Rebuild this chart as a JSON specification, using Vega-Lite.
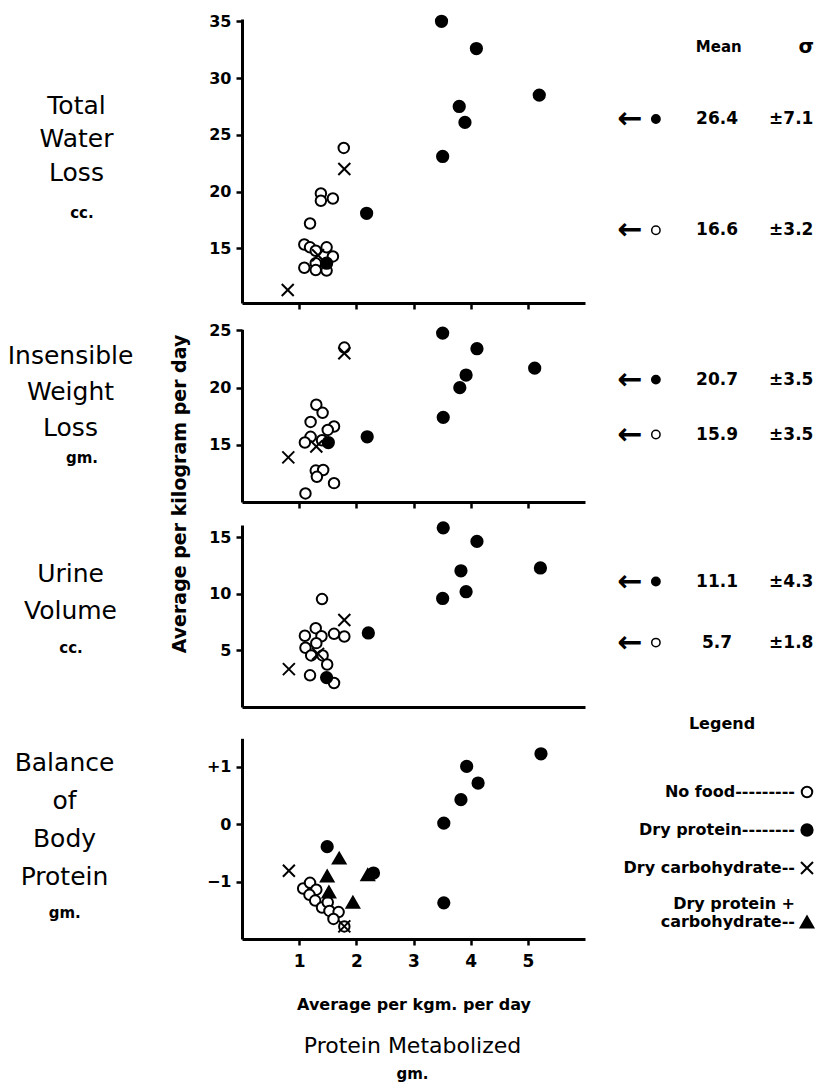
{
  "$schema": "https://vega.github.io/schema/vega-lite/v6.json",
  "padding": 0,
  "background": "white",
  "autosize": {"type": "pad"},
  "datasets": {
    "obs": [
      {"measure": "Total Water Loss", "diet": "No food", "protein": 1.78, "value": 23.85},
      {"measure": "Total Water Loss", "diet": "No food", "protein": 1.38, "value": 19.85},
      {"measure": "Total Water Loss", "diet": "No food", "protein": 1.38, "value": 19.2},
      {"measure": "Total Water Loss", "diet": "No food", "protein": 1.59, "value": 19.4},
      {"measure": "Total Water Loss", "diet": "No food", "protein": 1.19, "value": 17.2},
      {"measure": "Total Water Loss", "diet": "No food", "protein": 1.09, "value": 15.35},
      {"measure": "Total Water Loss", "diet": "No food", "protein": 1.19, "value": 15.1},
      {"measure": "Total Water Loss", "diet": "No food", "protein": 1.29, "value": 14.8},
      {"measure": "Total Water Loss", "diet": "No food", "protein": 1.48, "value": 15.1},
      {"measure": "Total Water Loss", "diet": "No food", "protein": 1.59, "value": 14.3},
      {"measure": "Total Water Loss", "diet": "No food", "protein": 1.29, "value": 13.7},
      {"measure": "Total Water Loss", "diet": "No food", "protein": 1.09, "value": 13.3},
      {"measure": "Total Water Loss", "diet": "No food", "protein": 1.29, "value": 13.1},
      {"measure": "Total Water Loss", "diet": "No food", "protein": 1.48, "value": 13.05},
      {"measure": "Total Water Loss", "diet": "Dry protein", "protein": 3.49, "value": 35.0},
      {"measure": "Total Water Loss", "diet": "Dry protein", "protein": 4.10, "value": 32.6},
      {"measure": "Total Water Loss", "diet": "Dry protein", "protein": 5.20, "value": 28.5},
      {"measure": "Total Water Loss", "diet": "Dry protein", "protein": 3.80, "value": 27.5},
      {"measure": "Total Water Loss", "diet": "Dry protein", "protein": 3.90, "value": 26.1},
      {"measure": "Total Water Loss", "diet": "Dry protein", "protein": 3.51, "value": 23.1},
      {"measure": "Total Water Loss", "diet": "Dry protein", "protein": 2.18, "value": 18.1},
      {"measure": "Total Water Loss", "diet": "Dry protein", "protein": 1.48, "value": 13.7},
      {"measure": "Total Water Loss", "diet": "Dry carbohydrate", "protein": 1.79, "value": 22.0},
      {"measure": "Total Water Loss", "diet": "Dry carbohydrate", "protein": 0.80, "value": 11.35},
      {"measure": "Total Water Loss", "diet": "Dry carbohydrate", "protein": 1.33, "value": 14.4},
      {"measure": "Insensible Weight Loss", "diet": "No food", "protein": 1.79, "value": 23.5},
      {"measure": "Insensible Weight Loss", "diet": "No food", "protein": 1.30, "value": 18.5},
      {"measure": "Insensible Weight Loss", "diet": "No food", "protein": 1.41, "value": 17.8},
      {"measure": "Insensible Weight Loss", "diet": "No food", "protein": 1.20, "value": 17.0},
      {"measure": "Insensible Weight Loss", "diet": "No food", "protein": 1.61, "value": 16.6},
      {"measure": "Insensible Weight Loss", "diet": "No food", "protein": 1.50, "value": 16.3},
      {"measure": "Insensible Weight Loss", "diet": "No food", "protein": 1.20, "value": 15.7},
      {"measure": "Insensible Weight Loss", "diet": "No food", "protein": 1.10, "value": 15.2},
      {"measure": "Insensible Weight Loss", "diet": "No food", "protein": 1.40, "value": 15.4},
      {"measure": "Insensible Weight Loss", "diet": "No food", "protein": 1.29, "value": 12.75},
      {"measure": "Insensible Weight Loss", "diet": "No food", "protein": 1.42, "value": 12.8},
      {"measure": "Insensible Weight Loss", "diet": "No food", "protein": 1.31, "value": 12.2},
      {"measure": "Insensible Weight Loss", "diet": "No food", "protein": 1.61, "value": 11.65},
      {"measure": "Insensible Weight Loss", "diet": "No food", "protein": 1.11, "value": 10.75},
      {"measure": "Insensible Weight Loss", "diet": "Dry protein", "protein": 3.51, "value": 24.77},
      {"measure": "Insensible Weight Loss", "diet": "Dry protein", "protein": 4.11, "value": 23.4},
      {"measure": "Insensible Weight Loss", "diet": "Dry protein", "protein": 5.12, "value": 21.7},
      {"measure": "Insensible Weight Loss", "diet": "Dry protein", "protein": 3.92, "value": 21.1},
      {"measure": "Insensible Weight Loss", "diet": "Dry protein", "protein": 3.81, "value": 20.0},
      {"measure": "Insensible Weight Loss", "diet": "Dry protein", "protein": 3.52, "value": 17.4},
      {"measure": "Insensible Weight Loss", "diet": "Dry protein", "protein": 2.19, "value": 15.7},
      {"measure": "Insensible Weight Loss", "diet": "Dry protein", "protein": 1.51, "value": 15.2},
      {"measure": "Insensible Weight Loss", "diet": "Dry carbohydrate", "protein": 1.79, "value": 23.0},
      {"measure": "Insensible Weight Loss", "diet": "Dry carbohydrate", "protein": 1.30, "value": 14.85},
      {"measure": "Insensible Weight Loss", "diet": "Dry carbohydrate", "protein": 0.81, "value": 13.9},
      {"measure": "Urine Volume", "diet": "No food", "protein": 1.40, "value": 9.55},
      {"measure": "Urine Volume", "diet": "No food", "protein": 1.29, "value": 6.97},
      {"measure": "Urine Volume", "diet": "No food", "protein": 1.10, "value": 6.3},
      {"measure": "Urine Volume", "diet": "No food", "protein": 1.39, "value": 6.26},
      {"measure": "Urine Volume", "diet": "No food", "protein": 1.61, "value": 6.47},
      {"measure": "Urine Volume", "diet": "No food", "protein": 1.79, "value": 6.24},
      {"measure": "Urine Volume", "diet": "No food", "protein": 1.30, "value": 5.65},
      {"measure": "Urine Volume", "diet": "No food", "protein": 1.11, "value": 5.24},
      {"measure": "Urine Volume", "diet": "No food", "protein": 1.21, "value": 4.56},
      {"measure": "Urine Volume", "diet": "No food", "protein": 1.41, "value": 4.56},
      {"measure": "Urine Volume", "diet": "No food", "protein": 1.49, "value": 3.76},
      {"measure": "Urine Volume", "diet": "No food", "protein": 1.19, "value": 2.8},
      {"measure": "Urine Volume", "diet": "No food", "protein": 1.61, "value": 2.12},
      {"measure": "Urine Volume", "diet": "Dry protein", "protein": 3.52, "value": 15.85},
      {"measure": "Urine Volume", "diet": "Dry protein", "protein": 4.11, "value": 14.65},
      {"measure": "Urine Volume", "diet": "Dry protein", "protein": 5.22, "value": 12.3},
      {"measure": "Urine Volume", "diet": "Dry protein", "protein": 3.83, "value": 12.05},
      {"measure": "Urine Volume", "diet": "Dry protein", "protein": 3.92, "value": 10.2},
      {"measure": "Urine Volume", "diet": "Dry protein", "protein": 3.51, "value": 9.6},
      {"measure": "Urine Volume", "diet": "Dry protein", "protein": 2.21, "value": 6.55},
      {"measure": "Urine Volume", "diet": "Dry protein", "protein": 1.48, "value": 2.6},
      {"measure": "Urine Volume", "diet": "Dry carbohydrate", "protein": 1.79, "value": 7.7},
      {"measure": "Urine Volume", "diet": "Dry carbohydrate", "protein": 0.82, "value": 3.35},
      {"measure": "Urine Volume", "diet": "Dry carbohydrate", "protein": 1.33, "value": 4.7},
      {"measure": "Balance of Body Protein", "diet": "No food", "protein": 1.07, "value": -1.12},
      {"measure": "Balance of Body Protein", "diet": "No food", "protein": 1.19, "value": -1.02},
      {"measure": "Balance of Body Protein", "diet": "No food", "protein": 1.30, "value": -1.14},
      {"measure": "Balance of Body Protein", "diet": "No food", "protein": 1.18, "value": -1.23},
      {"measure": "Balance of Body Protein", "diet": "No food", "protein": 1.28, "value": -1.33},
      {"measure": "Balance of Body Protein", "diet": "No food", "protein": 1.40, "value": -1.45},
      {"measure": "Balance of Body Protein", "diet": "No food", "protein": 1.50, "value": -1.36},
      {"measure": "Balance of Body Protein", "diet": "No food", "protein": 1.53, "value": -1.51},
      {"measure": "Balance of Body Protein", "diet": "No food", "protein": 1.69, "value": -1.53},
      {"measure": "Balance of Body Protein", "diet": "No food", "protein": 1.60, "value": -1.65},
      {"measure": "Balance of Body Protein", "diet": "No food", "protein": 1.79, "value": -1.78},
      {"measure": "Balance of Body Protein", "diet": "Dry protein", "protein": 5.23, "value": 1.23},
      {"measure": "Balance of Body Protein", "diet": "Dry protein", "protein": 3.93, "value": 1.01},
      {"measure": "Balance of Body Protein", "diet": "Dry protein", "protein": 4.13, "value": 0.72},
      {"measure": "Balance of Body Protein", "diet": "Dry protein", "protein": 3.83, "value": 0.43},
      {"measure": "Balance of Body Protein", "diet": "Dry protein", "protein": 3.53, "value": 0.02},
      {"measure": "Balance of Body Protein", "diet": "Dry protein", "protein": 3.53, "value": -1.37},
      {"measure": "Balance of Body Protein", "diet": "Dry protein", "protein": 1.49, "value": -0.39},
      {"measure": "Balance of Body Protein", "diet": "Dry protein", "protein": 2.30, "value": -0.85},
      {"measure": "Balance of Body Protein", "diet": "Dry carbohydrate", "protein": 0.82, "value": -0.81},
      {"measure": "Balance of Body Protein", "diet": "Dry carbohydrate", "protein": 1.79, "value": -1.78},
      {"measure": "Balance of Body Protein", "diet": "Dry protein + carbohydrate", "protein": 1.70, "value": -0.59},
      {"measure": "Balance of Body Protein", "diet": "Dry protein + carbohydrate", "protein": 1.49, "value": -0.90},
      {"measure": "Balance of Body Protein", "diet": "Dry protein + carbohydrate", "protein": 2.20, "value": -0.88},
      {"measure": "Balance of Body Protein", "diet": "Dry protein + carbohydrate", "protein": 1.52, "value": -1.18},
      {"measure": "Balance of Body Protein", "diet": "Dry protein + carbohydrate", "protein": 1.94, "value": -1.36}
    ],
    "means": [
      {"measure": "Total Water Loss", "diet": "Dry protein", "mean": 26.4, "sd": "±7.1"},
      {"measure": "Total Water Loss", "diet": "No food", "mean": 16.6, "sd": "±3.2"},
      {"measure": "Insensible Weight Loss", "diet": "Dry protein", "mean": 20.7, "sd": "±3.5"},
      {"measure": "Insensible Weight Loss", "diet": "No food", "mean": 15.9, "sd": "±3.5"},
      {"measure": "Urine Volume", "diet": "Dry protein", "mean": 11.1, "sd": "±4.3"},
      {"measure": "Urine Volume", "diet": "No food", "mean": 5.7, "sd": "±1.8"}
    ]
  },
  "title": {
    "text": "Protein Metabolized",
    "subtitle": "gm.",
    "orient": "bottom",
    "anchor": "middle",
    "font": "DejaVu Sans",
    "fontSize": 22,
    "fontWeight": "normal",
    "color": "black",
    "subtitleFont": "DejaVu Sans",
    "subtitleFontSize": 15,
    "subtitleFontWeight": "bold",
    "subtitleColor": "black",
    "offset": 24,
    "subtitlePadding": 9
  },
  "spacing": 0,
  "bounds": "flush",
  "resolve": {
    "scale": {"x": "independent", "y": "independent", "shape": "shared", "fill": "shared", "size": "shared"},
    "legend": {"shape": "independent", "fill": "independent", "size": "independent"}
  },
  "vconcat": [
    {
      "width": 825,
      "height": 303,
      "layer": [
        {
          "data": {"name": "obs"},
          "transform": [{"filter": "datum.measure == 'Total Water Loss'"}],
          "mark": {"type": "point", "filled": true, "stroke": "black", "strokeWidth": 2, "opacity": 1},
          "encoding": {
            "x": {"field": "protein", "type": "quantitative", "scale": {"domain": [0, 6], "range": [242, 585], "nice": false, "zero": false}, "axis": {"values": [1, 2, 3, 4, 5], "labels": false, "title": null}},
            "y": {"field": "value", "type": "quantitative", "scale": {"domain": [10.2, 35.2], "range": [303, 19], "nice": false, "zero": false},
                  "axis": {"orient": "left", "offset": -242, "values": [15, 20, 25, 30, 35], "format": "d", "title": ["Total", "Water", "Loss"], "titleAngle": 0, "titleAlign": "center", "titleBaseline": "middle", "titleX": -166, "titleY": 105, "titleFontSize": 25, "titleFontWeight": "normal", "titleLineHeight": 33.5}},
            "shape": {"field": "diet", "type": "nominal", "scale": {"domain": ["No food", "Dry protein", "Dry carbohydrate", "Dry protein + carbohydrate"], "range": ["circle", "circle", "M-1,-1L1,1M-1,1L1,-1", "triangle-up"]}, "legend": null},
            "fill": {"field": "diet", "type": "nominal", "scale": {"domain": ["No food", "Dry protein", "Dry carbohydrate", "Dry protein + carbohydrate"], "range": ["white", "black", "black", "black"]}, "legend": null},
            "size": {"field": "diet", "type": "nominal", "scale": {"domain": ["No food", "Dry protein", "Dry carbohydrate", "Dry protein + carbohydrate"], "range": [110, 160, 140, 300]}, "legend": null}
          }
        },
        {
          "data": {"name": "means"},
          "transform": [{"filter": "datum.measure == 'Total Water Loss'"}],
          "mark": {"type": "text", "text": "←", "fontSize": 30, "fontWeight": "bold", "align": "center", "baseline": "middle"},
          "encoding": {"x": {"datum": 6.79}, "y": {"field": "mean", "type": "quantitative"}}
        },
        {
          "data": {"name": "means"},
          "transform": [{"filter": "datum.measure == 'Total Water Loss'"}],
          "mark": {"type": "point", "filled": true, "stroke": "black", "strokeWidth": 1.5, "opacity": 1, "size": 70},
          "encoding": {"x": {"datum": 7.24}, "y": {"field": "mean", "type": "quantitative"},
            "shape": {"field": "diet", "type": "nominal", "legend": null},
            "fill": {"field": "diet", "type": "nominal", "legend": null}}
        },
        {
          "data": {"name": "means"},
          "transform": [{"filter": "datum.measure == 'Total Water Loss'"}],
          "mark": {"type": "text", "fontSize": 17, "fontWeight": "bold", "align": "center", "baseline": "middle"},
          "encoding": {"x": {"datum": 8.31}, "y": {"field": "mean", "type": "quantitative"}, "text": {"field": "mean", "type": "quantitative", "format": ".1f"}}
        },
        {
          "data": {"name": "means"},
          "transform": [{"filter": "datum.measure == 'Total Water Loss'"}],
          "mark": {"type": "text", "fontSize": 17, "fontWeight": "bold", "align": "left", "baseline": "middle"},
          "encoding": {"x": {"datum": 9.22}, "y": {"field": "mean", "type": "quantitative"}, "text": {"field": "sd", "type": "nominal"}}
        },
        {
          "data": {"values": [{}]},
          "mark": {"type": "text", "text": "Mean", "fontSize": 15, "fontWeight": "bold", "align": "center", "baseline": "middle"},
          "encoding": {"x": {"datum": 8.34}, "y": {"datum": 32.74}}
        },
        {
          "data": {"values": [{}]},
          "mark": {"type": "text", "text": "σ", "fontSize": 20, "fontWeight": "bold", "align": "center", "baseline": "middle"},
          "encoding": {"x": {"datum": 9.87}, "y": {"datum": 32.74}}
        },
        {
          "data": {"values": [{}]},
          "mark": {"type": "text", "text": "cc.", "fontSize": 15, "fontWeight": "bold", "align": "center", "baseline": "middle"},
          "encoding": {"x": {"datum": -2.8}, "y": {"datum": 18.12}}
        }
      ]
    },
    {
      "width": 825,
      "height": 199,
      "layer": [
        {
          "data": {"name": "obs"},
          "transform": [{"filter": "datum.measure == 'Insensible Weight Loss'"}],
          "mark": {"type": "point", "filled": true, "stroke": "black", "strokeWidth": 2, "opacity": 1},
          "encoding": {
            "x": {"field": "protein", "type": "quantitative", "scale": {"domain": [0, 6], "range": [242, 585], "nice": false, "zero": false}, "axis": {"values": [1, 2, 3, 4, 5], "labels": false, "title": null}},
            "y": {"field": "value", "type": "quantitative", "scale": {"domain": [10, 25.1], "range": [199, 26.3], "nice": false, "zero": false},
                  "axis": {"orient": "left", "offset": -242, "values": [15, 20, 25], "format": "d", "title": ["Insensible", "Weight", "Loss"], "titleAngle": 0, "titleAlign": "center", "titleBaseline": "middle", "titleX": -172, "titleY": 52, "titleFontSize": 25, "titleFontWeight": "normal", "titleLineHeight": 36}},
            "shape": {"field": "diet", "type": "nominal", "scale": {"domain": ["No food", "Dry protein", "Dry carbohydrate", "Dry protein + carbohydrate"], "range": ["circle", "circle", "M-1,-1L1,1M-1,1L1,-1", "triangle-up"]}, "legend": null},
            "fill": {"field": "diet", "type": "nominal", "scale": {"domain": ["No food", "Dry protein", "Dry carbohydrate", "Dry protein + carbohydrate"], "range": ["white", "black", "black", "black"]}, "legend": null},
            "size": {"field": "diet", "type": "nominal", "scale": {"domain": ["No food", "Dry protein", "Dry carbohydrate", "Dry protein + carbohydrate"], "range": [110, 160, 140, 300]}, "legend": null}
          }
        },
        {
          "data": {"name": "means"},
          "transform": [{"filter": "datum.measure == 'Insensible Weight Loss'"}],
          "mark": {"type": "text", "text": "←", "fontSize": 30, "fontWeight": "bold", "align": "center", "baseline": "middle"},
          "encoding": {"x": {"datum": 6.79}, "y": {"field": "mean", "type": "quantitative"}}
        },
        {
          "data": {"name": "means"},
          "transform": [{"filter": "datum.measure == 'Insensible Weight Loss'"}],
          "mark": {"type": "point", "filled": true, "stroke": "black", "strokeWidth": 1.5, "opacity": 1, "size": 70},
          "encoding": {"x": {"datum": 7.24}, "y": {"field": "mean", "type": "quantitative"},
            "shape": {"field": "diet", "type": "nominal", "legend": null},
            "fill": {"field": "diet", "type": "nominal", "legend": null}}
        },
        {
          "data": {"name": "means"},
          "transform": [{"filter": "datum.measure == 'Insensible Weight Loss'"}],
          "mark": {"type": "text", "fontSize": 17, "fontWeight": "bold", "align": "center", "baseline": "middle"},
          "encoding": {"x": {"datum": 8.31}, "y": {"field": "mean", "type": "quantitative"}, "text": {"field": "mean", "type": "quantitative", "format": ".1f"}}
        },
        {
          "data": {"name": "means"},
          "transform": [{"filter": "datum.measure == 'Insensible Weight Loss'"}],
          "mark": {"type": "text", "fontSize": 17, "fontWeight": "bold", "align": "left", "baseline": "middle"},
          "encoding": {"x": {"datum": 9.22}, "y": {"field": "mean", "type": "quantitative"}, "text": {"field": "sd", "type": "nominal"}}
        },
        {
          "data": {"values": [{}]},
          "mark": {"type": "text", "text": "gm.", "fontSize": 15, "fontWeight": "bold", "align": "center", "baseline": "middle"},
          "encoding": {"x": {"datum": -2.8}, "y": {"datum": 13.85}}
        },
        {
          "data": {"values": [{}]},
          "mark": {"type": "text", "text": "Average per kilogram per day", "fontSize": 19, "fontWeight": "bold", "align": "center", "baseline": "middle", "angle": 270},
          "encoding": {"x": {"datum": -1.085}, "y": {"datum": 10.7}}
        }
      ]
    },
    {
      "width": 825,
      "height": 205,
      "layer": [
        {
          "data": {"name": "obs"},
          "transform": [{"filter": "datum.measure == 'Urine Volume'"}],
          "mark": {"type": "point", "filled": true, "stroke": "black", "strokeWidth": 2, "opacity": 1},
          "encoding": {
            "x": {"field": "protein", "type": "quantitative", "scale": {"domain": [0, 6], "range": [242, 585], "nice": false, "zero": false}, "axis": {"values": [1, 2, 3, 4, 5], "labels": false, "ticks": false, "title": null}},
            "y": {"field": "value", "type": "quantitative", "scale": {"domain": [0, 16.1], "range": [205, 23], "nice": false, "zero": false},
                  "axis": {"orient": "left", "offset": -242, "values": [5, 10, 15], "format": "d", "title": ["Urine", "Volume"], "titleAngle": 0, "titleAlign": "center", "titleBaseline": "middle", "titleX": -172, "titleY": 71, "titleFontSize": 25, "titleFontWeight": "normal", "titleLineHeight": 37}},
            "shape": {"field": "diet", "type": "nominal", "scale": {"domain": ["No food", "Dry protein", "Dry carbohydrate", "Dry protein + carbohydrate"], "range": ["circle", "circle", "M-1,-1L1,1M-1,1L1,-1", "triangle-up"]}, "legend": null},
            "fill": {"field": "diet", "type": "nominal", "scale": {"domain": ["No food", "Dry protein", "Dry carbohydrate", "Dry protein + carbohydrate"], "range": ["white", "black", "black", "black"]}, "legend": null},
            "size": {"field": "diet", "type": "nominal", "scale": {"domain": ["No food", "Dry protein", "Dry carbohydrate", "Dry protein + carbohydrate"], "range": [110, 160, 140, 300]}, "legend": null}
          }
        },
        {
          "data": {"name": "means"},
          "transform": [{"filter": "datum.measure == 'Urine Volume'"}],
          "mark": {"type": "text", "text": "←", "fontSize": 30, "fontWeight": "bold", "align": "center", "baseline": "middle"},
          "encoding": {"x": {"datum": 6.79}, "y": {"field": "mean", "type": "quantitative"}}
        },
        {
          "data": {"name": "means"},
          "transform": [{"filter": "datum.measure == 'Urine Volume'"}],
          "mark": {"type": "point", "filled": true, "stroke": "black", "strokeWidth": 1.5, "opacity": 1, "size": 70},
          "encoding": {"x": {"datum": 7.24}, "y": {"field": "mean", "type": "quantitative"},
            "shape": {"field": "diet", "type": "nominal", "legend": null},
            "fill": {"field": "diet", "type": "nominal", "legend": null}}
        },
        {
          "data": {"name": "means"},
          "transform": [{"filter": "datum.measure == 'Urine Volume'"}],
          "mark": {"type": "text", "fontSize": 17, "fontWeight": "bold", "align": "center", "baseline": "middle"},
          "encoding": {"x": {"datum": 8.31}, "y": {"field": "mean", "type": "quantitative"}, "text": {"field": "mean", "type": "quantitative", "format": ".1f"}}
        },
        {
          "data": {"name": "means"},
          "transform": [{"filter": "datum.measure == 'Urine Volume'"}],
          "mark": {"type": "text", "fontSize": 17, "fontWeight": "bold", "align": "left", "baseline": "middle"},
          "encoding": {"x": {"datum": 9.22}, "y": {"field": "mean", "type": "quantitative"}, "text": {"field": "sd", "type": "nominal"}}
        },
        {
          "data": {"values": [{}]},
          "mark": {"type": "text", "text": "cc.", "fontSize": 15, "fontWeight": "bold", "align": "center", "baseline": "middle"},
          "encoding": {"x": {"datum": -2.99}, "y": {"datum": 5.22}}
        }
      ]
    },
    {
      "width": 825,
      "height": 232,
      "layer": [
        {
          "data": {"name": "obs"},
          "transform": [{"filter": "datum.measure == 'Balance of Body Protein'"}],
          "mark": {"type": "point", "filled": true, "stroke": "black", "strokeWidth": 2, "opacity": 1},
          "encoding": {
            "x": {"field": "protein", "type": "quantitative", "scale": {"domain": [0, 6], "range": [242, 585], "nice": false, "zero": false},
                  "axis": {"values": [1, 2, 3, 4, 5], "format": "d", "labels": true, "labelFontSize": 17, "labelFontWeight": "bold", "labelPadding": 8, "title": "Average per kgm. per day", "titleFontSize": 16, "titleFontWeight": "bold", "titlePadding": 27}},
            "y": {"field": "value", "type": "quantitative", "scale": {"domain": [-2, 1.5], "range": [232, 31.3], "nice": false, "zero": false},
                  "axis": {"orient": "left", "offset": -242, "values": [-1, 0, 1], "format": "d", "labelExpr": "datum.value > 0 ? '+' + datum.label : datum.label", "title": ["Balance", "of", "Body", "Protein"], "titleAngle": 0, "titleAlign": "center", "titleBaseline": "middle", "titleX": -178, "titleY": 55, "titleFontSize": 25, "titleFontWeight": "normal", "titleLineHeight": 38.3}},
            "shape": {"field": "diet", "type": "nominal", "scale": {"domain": ["No food", "Dry protein", "Dry carbohydrate", "Dry protein + carbohydrate"], "range": ["circle", "circle", "M-1,-1L1,1M-1,1L1,-1", "triangle-up"]},
                      "legend": {"title": "Legend", "orient": "none", "legendX": 627, "legendY": 9, "columns": 1, "padding": 0, "titleFontSize": 16, "titleFontWeight": "bold", "titleColor": "black", "titleAnchor": "middle", "titleAlign": "center", "titlePadding": 52, "labelFontSize": 16, "labelFontWeight": "bold", "labelColor": "black", "labelLimit": 400, "labelAlign": "right", "labelOffset": -20, "symbolOffset": 172, "rowPadding": 18, "symbolStrokeColor": "black", "symbolStrokeWidth": 2,
                                 "labelExpr": "datum.value == 'No food' ? 'No food---------' : datum.value == 'Dry protein' ? 'Dry protein--------' : datum.value == 'Dry carbohydrate' ? 'Dry carbohydrate--' : ['Dry protein +', 'carbohydrate--']",
                                 "encoding": {"symbols": {"stroke": {"value": "black"}, "strokeWidth": {"value": 2}}, "labels": {"dy": {"value": {"expr": "datum.value == 'Dry protein + carbohydrate' ? -18 : 0"}}, "lineHeight": {"value": 18}}}}},
            "fill": {"field": "diet", "type": "nominal", "scale": {"domain": ["No food", "Dry protein", "Dry carbohydrate", "Dry protein + carbohydrate"], "range": ["white", "black", "black", "black"]},
                      "legend": {"title": "Legend", "orient": "none", "legendX": 627, "legendY": 9, "columns": 1, "padding": 0, "titleFontSize": 16, "titleFontWeight": "bold", "titleColor": "black", "titleAnchor": "middle", "titleAlign": "center", "titlePadding": 52, "labelFontSize": 16, "labelFontWeight": "bold", "labelColor": "black", "labelLimit": 400, "labelAlign": "right", "labelOffset": -20, "symbolOffset": 172, "rowPadding": 18, "symbolStrokeColor": "black", "symbolStrokeWidth": 2,
                                 "labelExpr": "datum.value == 'No food' ? 'No food---------' : datum.value == 'Dry protein' ? 'Dry protein--------' : datum.value == 'Dry carbohydrate' ? 'Dry carbohydrate--' : ['Dry protein +', 'carbohydrate--']",
                                 "encoding": {"symbols": {"stroke": {"value": "black"}, "strokeWidth": {"value": 2}}, "labels": {"dy": {"value": {"expr": "datum.value == 'Dry protein + carbohydrate' ? -18 : 0"}}, "lineHeight": {"value": 18}}}}},
            "size": {"field": "diet", "type": "nominal", "scale": {"domain": ["No food", "Dry protein", "Dry carbohydrate", "Dry protein + carbohydrate"], "range": [110, 160, 140, 300]},
                      "legend": {"title": "Legend", "orient": "none", "legendX": 627, "legendY": 9, "columns": 1, "padding": 0, "titleFontSize": 16, "titleFontWeight": "bold", "titleColor": "black", "titleAnchor": "middle", "titleAlign": "center", "titlePadding": 52, "labelFontSize": 16, "labelFontWeight": "bold", "labelColor": "black", "labelLimit": 400, "labelAlign": "right", "labelOffset": -20, "symbolOffset": 172, "rowPadding": 18, "symbolStrokeColor": "black", "symbolStrokeWidth": 2,
                                 "labelExpr": "datum.value == 'No food' ? 'No food---------' : datum.value == 'Dry protein' ? 'Dry protein--------' : datum.value == 'Dry carbohydrate' ? 'Dry carbohydrate--' : ['Dry protein +', 'carbohydrate--']",
                                 "encoding": {"symbols": {"stroke": {"value": "black"}, "strokeWidth": {"value": 2}}, "labels": {"dy": {"value": {"expr": "datum.value == 'Dry protein + carbohydrate' ? -18 : 0"}}, "lineHeight": {"value": 18}}}}}
          }
        },
        {
          "data": {"values": [{}]},
          "mark": {"type": "text", "text": "gm.", "fontSize": 15, "fontWeight": "bold", "align": "center", "baseline": "middle"},
          "encoding": {"x": {"datum": -3.1}, "y": {"datum": -1.547}}
        }
      ]
    }
  ],
  "config": {
    "view": {"stroke": null},
    "font": "DejaVu Sans",
    "axis": {"grid": false, "domainColor": "black", "domainWidth": 3, "tickColor": "black", "tickWidth": 2.5, "tickSize": 6, "labelColor": "black", "labelFontSize": 16, "labelFontWeight": "bold", "labelFlush": false, "labelOverlap": false, "labelPadding": 5, "titleColor": "black"},
    "text": {"color": "black"}
  }
}
